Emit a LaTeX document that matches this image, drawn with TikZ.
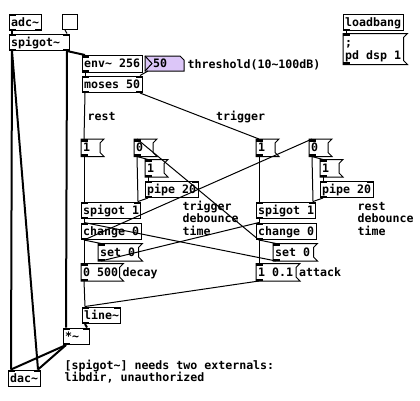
\documentclass[tikz,border=0pt]{standalone}
\usepackage{fontspec}
\newfontfamily\pdfont{DejaVu Sans Mono}
\usepackage{tikz}

\definecolor{nbxpurple}{RGB}{220,198,248}
\newcommand{\tl}{\textasciitilde}

\tikzset{
    box/.style={draw, line width=1pt, anchor=north west, inner sep=0pt, minimum height=16.5pt},
    sig/.style={line width=2pt},
    ctl/.style={line width=1pt},
    txt/.style={anchor=base west, inner sep=0pt, font=\pdfont\bfseries\fontsize{11.6pt}{12.7pt}\selectfont},
}
% object box: name, x, y, width, text
\newcommand{\objbox}[5]{
    \node[box, minimum width=#4pt] (#1) at (#2,#3) {};
    \node[txt] at ([xshift=2pt,yshift=-12.5pt]#1.north west) {#5};
}
% message box with the flag on the right
\newcommand{\msgbox}[5]{
    \node[box, draw=none, minimum width=#4pt] (#1) at (#2,#3) {};
    \draw[line width=1pt] (#1.north west) -- ([xshift=4pt]#1.north east) -- ([yshift=-4pt]#1.north east)
        -- ([yshift=4pt]#1.south east) -- ([xshift=4pt]#1.south east) -- (#1.south west) -- cycle;
    \node[txt] at ([xshift=2pt,yshift=-12.5pt]#1.north west) {#5};
}
% inlets and outlets
\newcommand{\inL}[1]{\fill (#1.north west) rectangle ([xshift=7pt,yshift=-2.5pt]#1.north west);}
\newcommand{\inR}[1]{\fill (#1.north east) rectangle ([xshift=-7pt,yshift=-2.5pt]#1.north east);}
\newcommand{\outL}[1]{\fill (#1.south west) rectangle ([xshift=7pt,yshift=2.5pt]#1.south west);}
\newcommand{\outR}[1]{\fill (#1.south east) rectangle ([xshift=-7pt,yshift=2.5pt]#1.south east);}

\begin{document}
\begin{tikzpicture}[x=1pt,y=-1pt]
    \useasboundingbox (0,0) rectangle (420,400);

    % audio chain
    \objbox{adc}{9}{13.5}{32}{adc\tl}
    \node[box, minimum width=15pt, minimum height=15pt] (tgl) at (62,14) {};
    \objbox{spg}{9}{33.5}{60}{spigot\tl}
    \objbox{env}{82}{55}{60}{env\tl{} 256}
    \objbox{moses}{82}{75.5}{60}{moses 50}
    \objbox{line}{82}{306.5}{38}{line\tl}
    \objbox{mul}{63}{327.5}{26}{*\tl}
    \objbox{dac}{8}{369.5}{32}{dac\tl}

    % threshold number box
    \node[box, draw=none, minimum width=38pt, minimum height=14pt] (nbx) at (145,56) {};
    \filldraw[fill=nbxpurple, line width=1pt] (nbx.north west) -- ([xshift=-4pt]nbx.north east)
        -- ([yshift=-4pt]nbx.north east) -- (nbx.south east) -- (nbx.south west) -- cycle;
    \draw[line width=1pt] (nbx.north west) -- ([xshift=7pt]nbx.west) -- (nbx.south west);
    \node[txt] at ([xshift=8pt,yshift=-11pt]nbx.north west) {50};
    \node[txt] at (187.5,68) {threshold(10\tl100dB)};

    % rest side (left) and trigger side (right)
    \msgbox{m1L}{81}{139}{18}{1}
    \msgbox{m0L}{134}{139}{18}{0}
    \msgbox{m1bL}{145}{159.5}{18}{1}
    \objbox{pipeL}{145}{180.5}{53}{pipe 20}
    \objbox{spL}{81}{201.5}{59}{spigot 1}
    \objbox{chL}{81}{222.5}{60}{change 0}
    \msgbox{setL}{98}{243.5}{39.5}{set 0}
    \msgbox{m0500}{81}{263.5}{37.5}{0 500}

    \msgbox{m1R}{256}{139}{18}{1}
    \msgbox{m0R}{309}{139}{18}{0}
    \msgbox{m1bR}{320}{159.5}{18}{1}
    \objbox{pipeR}{320}{180.5}{53}{pipe 20}
    \objbox{spR}{256}{201.5}{59}{spigot 1}
    \objbox{chR}{256}{222.5}{60}{change 0}
    \msgbox{setR}{273}{243.5}{39.5}{set 0}
    \msgbox{m101}{256}{263.5}{39}{1 0.1}

    % dsp on
    \objbox{load}{343}{13.5}{60}{loadbang}
    \node[box, draw=none, minimum width=59.5pt, minimum height=30pt] (dsp) at (343,33.5) {};
    \draw[line width=1pt] (dsp.north west) -- ([xshift=4pt]dsp.north east) -- ([yshift=-4pt]dsp.north east)
        -- ([yshift=4pt]dsp.south east) -- ([xshift=4pt]dsp.south east) -- (dsp.south west) -- cycle;
    \node[txt] at (345,46.5) {;};
    \node[txt] at (345,59) {pd dsp 1};

    % comments
    \node[txt] at (87.5,120) {rest};
    \node[txt] at (216,120) {trigger};
    \node[txt] at (122.5,276) {decay};
    \node[txt] at (299,276) {attack};
    \node[txt] at (182.5,210) {trigger};
    \node[txt] at (182.5,222.7) {debounce};
    \node[txt] at (182.5,235.4) {time};
    \node[txt] at (357.5,210) {rest};
    \node[txt] at (357.5,222.7) {debounce};
    \node[txt] at (357.5,235.4) {time};
    \node[txt] at (64.5,369) {[spigot\tl] needs two externals:};
    \node[txt] at (64.5,381.5) {libdir, unauthorized};

    % inlets / outlets
    \inL{adc} \outL{adc} \outR{adc}
    \inL{spg} \inR{spg} \outL{spg} \outR{spg}
    \inL{env} \outL{env}
    \inL{moses} \inR{moses} \outL{moses} \outR{moses}
    \inL{line} \inR{line} \outL{line}
    \inL{mul} \inR{mul} \outL{mul}
    \inL{dac} \inR{dac}
    \outL{load} \inL{dsp} \outL{dsp}
    \inL{m0500} \outL{m0500}
    \inL{m101} \outL{m101}
    \foreach \s in {L,R}{
        \inL{m1\s} \outL{m1\s}
        \inL{m0\s} \outL{m0\s}
        \inL{m1b\s} \outL{m1b\s}
        \inL{pipe\s} \inR{pipe\s} \outL{pipe\s}
        \inL{sp\s} \inR{sp\s} \outL{sp\s}
        \inL{ch\s} \outL{ch\s}
        \inL{set\s} \outL{set\s}
    }

    % signal connections
    \draw[sig] ([xshift=3pt]adc.south west) -- ([xshift=3pt]spg.north west);
    \draw[sig] ([xshift=3pt]spg.south west) -- ([xshift=3pt]dac.north west);
    \draw[sig] ([xshift=3pt]spg.south west) -- ([xshift=-3pt]dac.north east);
    \draw[sig] ([xshift=-3pt]spg.south east) -- ([xshift=3pt]mul.north west);
    \draw[sig] ([xshift=-3pt]spg.south east) -- ([xshift=3pt]env.north west);
    \draw[sig] ([xshift=3pt]line.south west) -- ([xshift=-3pt]mul.north east);
    \draw[sig] ([xshift=3pt]mul.south west) -- ([xshift=3pt]dac.north west);
    \draw[sig] ([xshift=3pt]mul.south west) -- ([xshift=-3pt]dac.north east);

    % control connections
    \draw[ctl] ([xshift=3pt]tgl.south west) -- ([xshift=-3pt]spg.north east);
    \draw[ctl] ([xshift=3pt]env.south west) -- ([xshift=3pt]moses.north west);
    \draw[ctl] ([xshift=3pt]nbx.south west) -- ([xshift=-3pt]moses.north east);
    \draw[ctl] ([xshift=3pt]moses.south west) -- ([xshift=3pt]m1L.north west);
    \draw[ctl] ([xshift=-3pt]moses.south east) -- ([xshift=3pt]m1R.north west);
    \foreach \s in {L,R}{
        \draw[ctl] ([xshift=3pt]m1\s.south west) -- ([xshift=3pt]sp\s.north west);
        \draw[ctl] ([xshift=3pt]m0\s.south west) -- ([xshift=-3pt]sp\s.north east);
        \draw[ctl] ([xshift=3pt]m0\s.south west) -- ([xshift=3pt]m1b\s.north west);
        \draw[ctl] ([xshift=3pt]m1b\s.south west) -- ([xshift=3pt]pipe\s.north west);
        \draw[ctl] ([xshift=3pt]pipe\s.south west) -- ([xshift=-3pt]sp\s.north east);
        \draw[ctl] ([xshift=3pt]sp\s.south west) -- ([xshift=3pt]ch\s.north west);
        \draw[ctl] ([xshift=3pt]ch\s.south west) -- ([xshift=3pt]set\s.north west);
    }
    \draw[ctl] ([xshift=3pt]chL.south west) -- ([xshift=3pt]m0500.north west);
    \draw[ctl] ([xshift=3pt]chR.south west) -- ([xshift=3pt]m101.north west);
    \draw[ctl] ([xshift=3pt]chL.south west) -- ([xshift=3pt]m0R.north west);
    \draw[ctl] ([xshift=3pt]chR.south west) -- ([xshift=3pt]m0L.north west);
    \draw[ctl] ([xshift=3pt]setL.south west) -- ([xshift=3pt]chR.north west);
    \draw[ctl] ([xshift=3pt]setR.south west) -- ([xshift=3pt]chL.north west);
    \draw[ctl] ([xshift=3pt]m0500.south west) -- ([xshift=3pt]line.north west);
    \draw[ctl] ([xshift=3pt]m101.south west) -- ([xshift=3pt]line.north west);
    \draw[ctl] ([xshift=3pt]load.south west) -- ([xshift=3pt]dsp.north west);
\end{tikzpicture}
\end{document}
